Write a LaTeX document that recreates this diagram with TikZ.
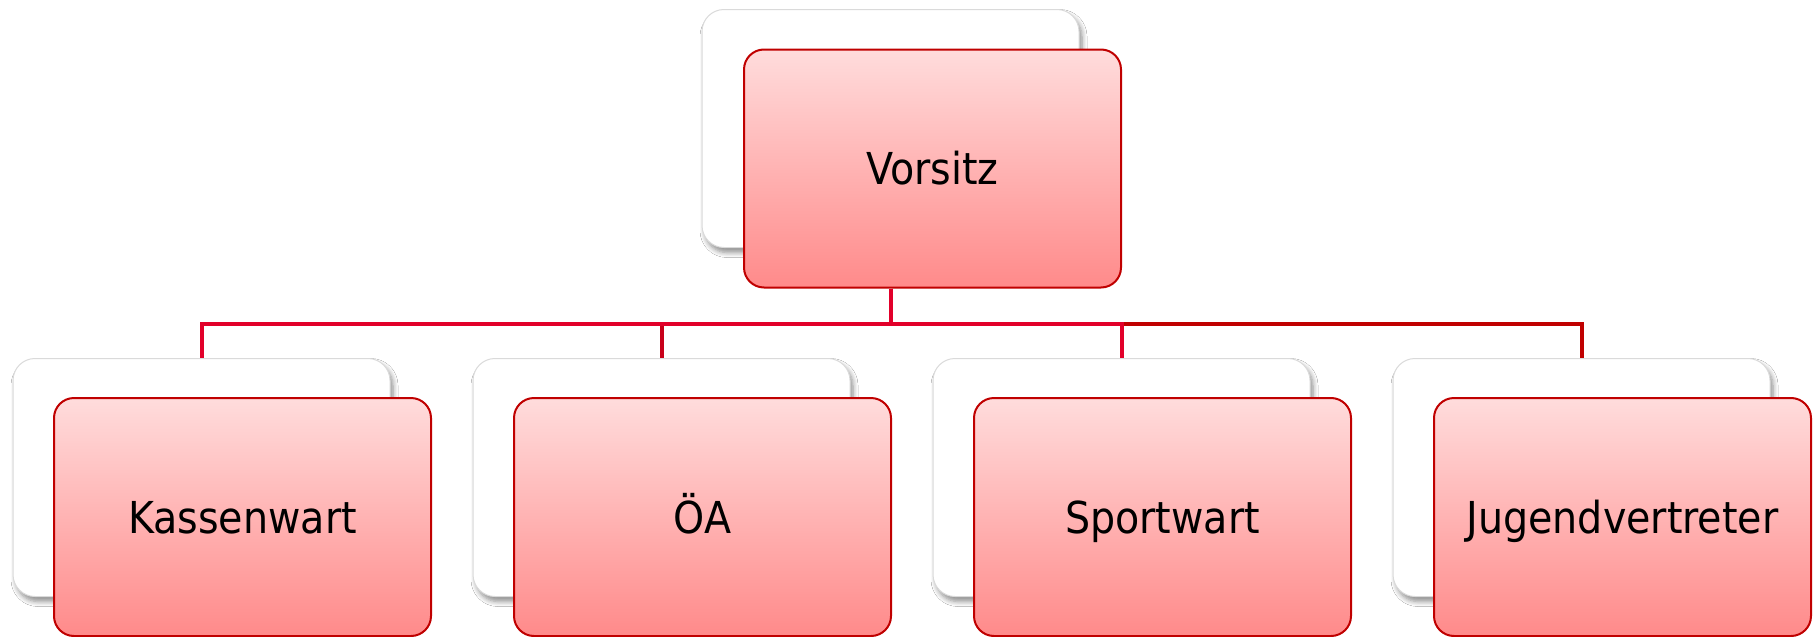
\documentclass[tikz,border=0pt]{standalone}
\usepackage{fontspec}
\setmainfont{DejaVu Sans Condensed}
\usetikzlibrary{shadows.blur,calc}
\definecolor{conn}{HTML}{E2002A}
\definecolor{connb}{HTML}{C8001A}
\definecolor{connc}{HTML}{C00000}
\definecolor{fborder}{HTML}{C00000}
\definecolor{ftop}{HTML}{FFDCDC}
\definecolor{fbot}{HTML}{FF8A8A}
\definecolor{bborder}{HTML}{DADADA}
\tikzset{
  backbox/.style={draw=bborder, line width=0.5pt, fill=white, rounded corners=11pt,
    minimum width=188.5pt, minimum height=119pt, inner sep=0pt,
    blur shadow={shadow xshift=1.5pt, shadow yshift=-2.5pt, shadow blur steps=6, shadow opacity=45, shadow blur radius=2.5pt}},
  frontbox/.style={draw=fborder, line width=1pt, top color=ftop, bottom color=fbot, rounded corners=10pt,
    minimum width=188.5pt, minimum height=119pt, inner sep=0pt,
    text height=16pt, text depth=0pt,
    font=\fontsize{22pt}{26pt}\selectfont, text=black},
  connector/.style={line width=2pt, draw=conn},
}
\begin{document}
\begin{tikzpicture}[x=0.5pt, y=-0.5pt]
\useasboundingbox (0,0) rectangle (1816,637);
\fill[white] (0,0) rectangle (1816,637);
\coordinate (bus) at (0,324);
% top
\node[backbox] (vb) at (890.5,128.5) {};
\node[frontbox] (v) at (932.5,168.5) {Vorsitz};
% children back boxes
\node[backbox] (kb) at (201.5,477.5) {};
\node[backbox] (ob) at (661.5,477.5) {};
\node[backbox] (sb) at (1121.5,477.5) {};
\node[backbox] (jb) at (1581.5,477.5) {};
% connectors
\draw[connector, draw=connc] (vb.center |- v.south) -- (vb.center |- bus) -| (jb.north);
\draw[connector, draw=connb] (vb.center |- v.south) -- (vb.center |- bus) -| (ob.north);
\draw[connector] (vb.center |- v.south) -- (vb.center |- bus) -| (kb.north);
\draw[connector] (vb.center |- v.south) -- (vb.center |- bus) -| (sb.north);
% front boxes
\node[frontbox] (k) at (242.5,517) {Kassenwart};
\node[frontbox] (o) at (702.5,517) {ÖA};
\node[frontbox] (s) at (1162.5,517) {Sportwart};
\node[frontbox] (j) at (1622.5,517) {Jugendvertreter};
\end{tikzpicture}
\end{document}
